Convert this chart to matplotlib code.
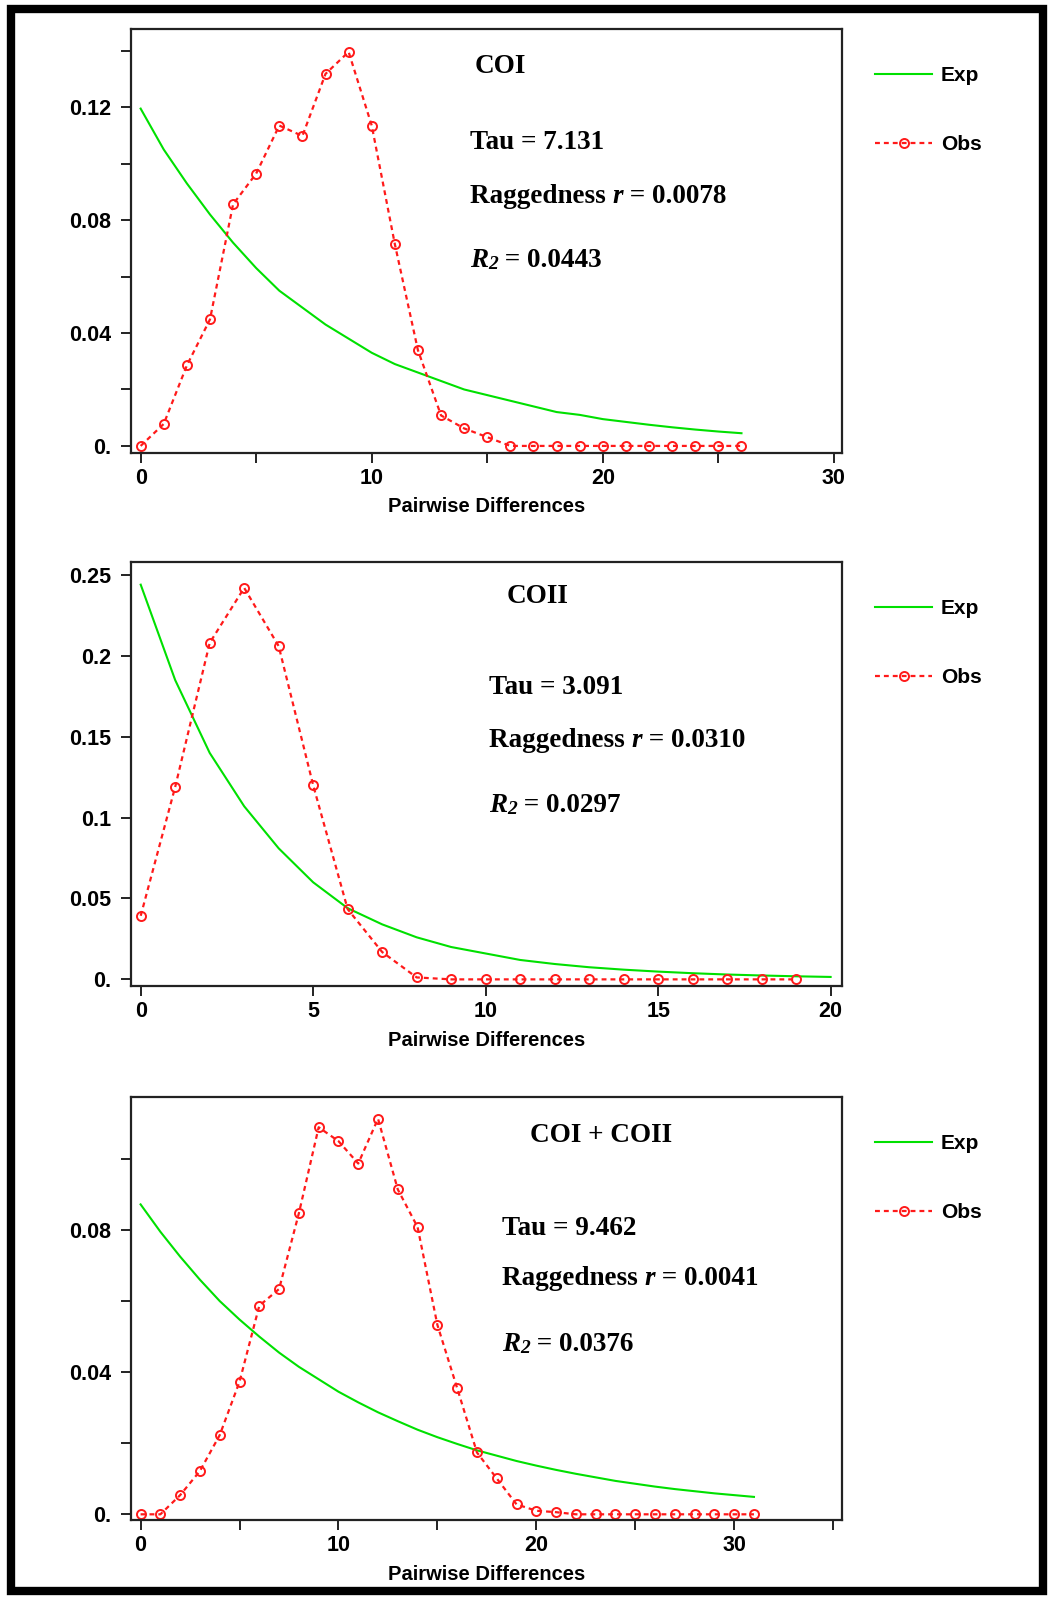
#!/usr/bin/env python3
"""Mismatch distributions for COI, COII and COI + COII."""

import matplotlib
matplotlib.use("Agg")
import matplotlib.pyplot as plt
from matplotlib.patches import Rectangle
from matplotlib.ticker import FuncFormatter, MultipleLocator

# ---- data ------------------------------------------------------------------
coi_obs = [0.0, 0.0078, 0.0285, 0.0448, 0.0856, 0.0965, 0.1135, 0.1098, 0.1318,
           0.1396, 0.1135, 0.0715, 0.0339, 0.0108, 0.0062, 0.0031, 0, 0, 0, 0,
           0, 0, 0, 0, 0, 0, 0]
coi_exp = [0.1195, 0.105, 0.093, 0.082, 0.072, 0.063, 0.055, 0.049, 0.043, 0.038,
           0.033, 0.029, 0.026, 0.023, 0.020, 0.018, 0.016, 0.014, 0.012, 0.011,
           0.0095, 0.0085, 0.0075, 0.0066, 0.0058, 0.0051, 0.0045]

coii_obs = [0.0393, 0.119, 0.208, 0.242, 0.206, 0.120, 0.0434, 0.0169, 0.0012,
            0, 0, 0, 0, 0, 0, 0, 0, 0, 0, 0]
coii_exp = [0.244, 0.185, 0.140, 0.107, 0.081, 0.060, 0.044, 0.034, 0.026, 0.020,
            0.016, 0.012, 0.0095, 0.0075, 0.006, 0.0048, 0.0038, 0.003, 0.0024,
            0.0019, 0.0015]

both_obs = [0, 0, 0.0054, 0.0122, 0.0223, 0.0373, 0.0587, 0.0634, 0.0847, 0.1089,
            0.1050, 0.0987, 0.1113, 0.0914, 0.0808, 0.0533, 0.0355, 0.0174, 0.0101,
            0.0028, 0.001, 0.0006, 0, 0, 0, 0, 0, 0, 0, 0, 0, 0]
both_exp = [0.0872, 0.0795, 0.0725, 0.066, 0.060, 0.0548, 0.050, 0.0455, 0.0415,
            0.038, 0.0345, 0.0315, 0.0287, 0.0262, 0.0238, 0.0217, 0.0198, 0.018,
            0.0165, 0.015, 0.0137, 0.0125, 0.0114, 0.0104, 0.0094, 0.0086, 0.0078,
            0.0071, 0.0065, 0.0059, 0.0054, 0.0049]

titles = ["COI", "COII", "COI + COII"]
taus = ["7.131", "3.091", "9.462"]
raggedness = ["0.0078", "0.0310", "0.0041"]
r2_values = ["0.0443", "0.0297", "0.0376"]

GREEN = "#00e000"
RED = "#ff1a1a"
SANS = ["Liberation Sans", "DejaVu Sans"]
SERIF = ["Liberation Serif", "DejaVu Serif"]
STAT_SIZE = 19.5

W, H = 1054, 1600
fig = plt.figure(figsize=(W / 100, H / 100), dpi=100)


def px_axes(left, top, right, bottom):
    return fig.add_axes([left / W, 1 - bottom / H, (right - left) / W, (bottom - top) / H])


def zero_fmt(v, _):
    if abs(v) < 1e-9:
        return "0."
    return f"{v:g}"


def chain(ax, x, y, parts):
    """Write text pieces one after another on a common bottom line."""
    prev = None
    for s, style, size in parts:
        kw = dict(fontfamily=SERIF, fontweight="bold", fontstyle=style,
                  fontsize=size, va="bottom", ha="left", color="black")
        if prev is None:
            prev = ax.text(x, y, s, transform=ax.transAxes, **kw)
        else:
            prev = ax.annotate(s, xy=(1, 0), xycoords=prev, **kw)


panels = [
    dict(box=(130.7, 29, 842, 452.7), xlim=(-0.43, 30.35), ylim=(-0.0024, 0.1477),
         xmaj=10, xmin=5, ymaj=0.04, ymin=0.02, obs=coi_obs, exp=coi_exp,
         tpos=(0.484, 0.911), pos=(0.477, 0.734, 0.608, 0.455)),
    dict(box=(130.7, 561.7, 842, 986), xlim=(-0.29, 20.33), ylim=(-0.0041, 0.2582),
         xmaj=5, xmin=5, ymaj=0.05, ymin=0.05, obs=coii_obs, exp=coii_exp,
         tpos=(0.528, 0.9175), pos=(0.504, 0.705, 0.582, 0.427)),
    dict(box=(130.7, 1096.7, 842, 1520), xlim=(-0.5, 35.45), ylim=(-0.0016, 0.1175),
         xmaj=10, xmin=5, ymaj=0.04, ymin=0.02, obs=both_obs, exp=both_exp,
         tpos=(0.561, 0.9095), pos=(0.522, 0.690, 0.572, 0.418)),
]

for i, p in enumerate(panels):
    ax = px_axes(*p["box"])
    exp_line, = ax.plot(range(len(p["exp"])), p["exp"], color=GREEN, lw=1.5,
                        label="Exp")
    obs_line, = ax.plot(range(len(p["obs"])), p["obs"], color=RED, lw=1.6,
                        ls=(0, (2.2, 1.8)), marker="o", ms=6.5, mfc="none", mec=RED,
                        mew=1.4, label="Obs")
    ax.set_xlim(*p["xlim"])
    ax.set_ylim(*p["ylim"])
    ax.xaxis.set_major_locator(MultipleLocator(p["xmaj"]))
    ax.xaxis.set_minor_locator(MultipleLocator(p["xmin"]))
    ax.yaxis.set_major_locator(MultipleLocator(p["ymaj"]))
    ax.yaxis.set_minor_locator(MultipleLocator(p["ymin"]))
    ax.yaxis.set_major_formatter(FuncFormatter(zero_fmt))
    ax.tick_params(which="both", direction="out", length=7, width=1.4,
                   color="#222222", top=False, right=False)
    ax.tick_params(axis="y", pad=7)
    ax.tick_params(axis="x", pad=4)
    for lab in ax.get_xticklabels() + ax.get_yticklabels():
        lab.set_fontfamily(SANS)
        lab.set_fontweight("bold")
        lab.set_fontsize(15.5)
    for sp in ax.spines.values():
        sp.set_linewidth(1.6)
        sp.set_color("#222222")
    ax.set_xlabel("Pairwise Differences", fontfamily=SANS, fontweight="bold",
                  fontsize=14.5, labelpad=6)

    ax.text(p["tpos"][0], p["tpos"][1], titles[i], transform=ax.transAxes,
            fontfamily=SERIF, fontweight="bold", fontsize=19.5, va="center", ha="left")
    x0, yt, yr, yq = p["pos"]
    chain(ax, x0, yt - 0.032, [(f"Tau = {taus[i]}", "normal", STAT_SIZE)])
    chain(ax, x0, yr - 0.032, [("Raggedness ", "normal", STAT_SIZE),
                               ("r", "italic", STAT_SIZE),
                               (f" = {raggedness[i]}", "normal", STAT_SIZE)])
    chain(ax, x0, yq - 0.032, [("R", "italic", STAT_SIZE), ("2", "italic", 14),
                               (f" = {r2_values[i]}", "normal", STAT_SIZE)])

    ax.legend(handles=[exp_line, obs_line], loc="upper left",
              bbox_to_anchor=(1.047, 0.912), frameon=False, borderpad=0,
              borderaxespad=0, handlelength=2.7, handletextpad=0.45,
              labelspacing=2.4, numpoints=1,
              prop=dict(family=SANS, weight="bold", size=15))

# thick outer frame
fig.patches.append(Rectangle((11 / W, 9 / H), (W - 22) / W, (H - 18) / H,
                             transform=fig.transFigure, fill=False,
                             edgecolor="black", linewidth=6))

fig.savefig("out.png", dpi=100)
